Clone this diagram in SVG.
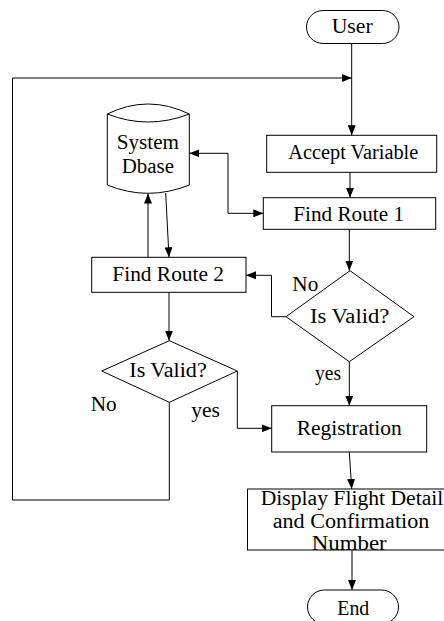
<svg xmlns="http://www.w3.org/2000/svg" width="444" height="621" viewBox="0 0 444 621">
  <style>
    .shape { fill: #fff; stroke: #000; stroke-width: 1; }
    .line { fill: none; stroke: #000; stroke-width: 1; }
    text { font-family: "Liberation Serif", "Times New Roman", serif; font-size: 20px; fill: #000; }
  </style>
  <defs>
    <marker id="arrow" markerUnits="userSpaceOnUse" markerWidth="10" markerHeight="8" refX="10" refY="4" orient="auto-start-reverse">
      <path d="M0,0 L10,4 L0,8 Z" fill="#000"/>
    </marker>
  </defs>

  <rect width="444" height="621" fill="#fff"/>

  <!-- connectors -->
  <g id="connectors">
    <path class="line" d="M351.7,43.5 V135.3" marker-end="url(#arrow)"/>
    <path class="line" d="M169.3,402.3 V500 H12.5 V78 H351.7" marker-end="url(#arrow)"/>
    <path class="line" d="M350,172.3 V197.7" marker-end="url(#arrow)"/>
    <path class="line" d="M263.3,213.3 H228 V153.3 H189.3" marker-start="url(#arrow)" marker-end="url(#arrow)"/>
    <path class="line" d="M349.3,229.3 V270.7" marker-end="url(#arrow)"/>
    <path class="line" d="M286,316.7 H271.5 V275.3 H246" marker-end="url(#arrow)"/>
    <path class="line" d="M349.3,361.7 V405.7" marker-end="url(#arrow)"/>
    <path class="line" d="M148,257.3 V193.5" marker-end="url(#arrow)"/>
    <path class="line" d="M165.7,193 L169,257.3" marker-end="url(#arrow)"/>
    <path class="line" d="M169,292.3 V340.7" marker-end="url(#arrow)"/>
    <path class="line" d="M237.3,371 V428.3 H271.7" marker-end="url(#arrow)"/>
    <path class="line" d="M349.3,452 L351.7,489" marker-end="url(#arrow)"/>
    <path class="line" d="M352,550 V590" marker-end="url(#arrow)"/>
  </g>

  <!-- start terminal -->
  <g id="user">
    <rect class="shape" x="306.5" y="10.5" width="92.5" height="33" rx="16.5"/>
    <text x="331.7" y="33.3" textLength="41" lengthAdjust="spacingAndGlyphs">User</text>
  </g>

  <g id="accept-variable">
    <rect class="shape" x="266.7" y="135.3" width="170" height="37"/>
    <text x="288.3" y="159.3" textLength="130" lengthAdjust="spacingAndGlyphs">Accept Variable</text>
  </g>

  <g id="find-route-1">
    <rect class="shape" x="263.3" y="197.7" width="172.4" height="31.6"/>
    <text x="293.3" y="221" textLength="110.7" lengthAdjust="spacingAndGlyphs">Find Route 1</text>
  </g>

  <!-- database cylinder -->
  <g id="system-dbase">
    <path class="shape" d="M107.3,114 Q148,94 189.3,114 V185 Q148,201.6 107.3,185 Z"/>
    <path class="line" d="M107.3,114 Q148,130 189.3,114"/>
    <text x="116.7" y="148.5" textLength="62.3" lengthAdjust="spacingAndGlyphs">System</text>
    <text x="121.7" y="172.5" textLength="52.3" lengthAdjust="spacingAndGlyphs">Dbase</text>
  </g>

  <g id="find-route-2">
    <rect class="shape" x="91.7" y="257.3" width="154.3" height="35"/>
    <text x="112.3" y="281" textLength="111.7" lengthAdjust="spacingAndGlyphs">Find Route 2</text>
  </g>

  <g id="is-valid-1">
    <path class="shape" d="M350,270.7 L414,316.7 L349.3,361.7 L286,316.7 Z"/>
    <text x="310" y="323.3" textLength="79.3" lengthAdjust="spacingAndGlyphs">Is Valid?</text>
  </g>

  <g id="is-valid-2">
    <path class="shape" d="M169.3,340.7 L237.3,371 L169.3,402.3 L101.7,371 Z"/>
    <text x="129.3" y="377.3" textLength="77.4" lengthAdjust="spacingAndGlyphs">Is Valid?</text>
  </g>

  <g id="registration">
    <rect class="shape" x="271.7" y="405.7" width="155" height="46.3"/>
    <text x="296.7" y="435" textLength="105" lengthAdjust="spacingAndGlyphs">Registration</text>
  </g>

  <g id="display-details">
    <rect class="shape" x="247.5" y="489" width="210" height="61"/>
    <text x="260.7" y="505" textLength="182.6" lengthAdjust="spacingAndGlyphs">Display Flight Detail</text>
    <text x="272.7" y="528.3" textLength="156.6" lengthAdjust="spacingAndGlyphs">and Confirmation</text>
    <text x="311.7" y="549.5" textLength="75" lengthAdjust="spacingAndGlyphs">Number</text>
  </g>

  <!-- end terminal -->
  <g id="end">
    <rect class="shape" x="307.5" y="590" width="91" height="34" rx="17"/>
    <text x="337.3" y="615" textLength="32" lengthAdjust="spacingAndGlyphs">End</text>
  </g>

  <!-- branch labels -->
  <g id="labels">
    <text x="292.3" y="290.5" textLength="26" lengthAdjust="spacingAndGlyphs">No</text>
    <text x="315" y="379.5" textLength="26" lengthAdjust="spacingAndGlyphs">yes</text>
    <text x="90.7" y="410.5" textLength="26" lengthAdjust="spacingAndGlyphs">No</text>
    <text x="191.3" y="417" textLength="28.7" lengthAdjust="spacingAndGlyphs">yes</text>
  </g>
</svg>
